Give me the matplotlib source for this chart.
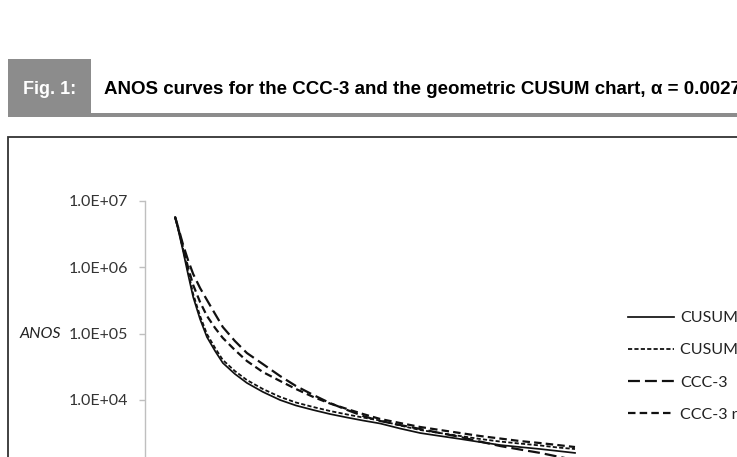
import matplotlib
matplotlib.use("Agg")
import matplotlib.pyplot as plt
from matplotlib.patches import Rectangle

plt.rcParams['lines.scale_dashes'] = False

# ---- data ----
shift = [0.070, 0.079, 0.088, 0.100, 0.112, 0.128, 0.144, 0.163, 0.181, 0.209,
         0.237, 0.274, 0.314, 0.351, 0.391, 0.430, 0.470, 0.507, 0.547, 0.593,
         0.640, 0.686, 0.733, 0.779, 0.826, 0.872, 0.919, 0.960, 1.000]
anos_cusum = [5.68e6, 3.26e6, 1.81e6, 7.88e5, 3.55e5, 1.65e5, 8.86e4, 5.45e4, 3.60e4, 2.46e4,
              1.80e4, 1.32e4, 9.97e3, 8.24e3, 7.05e3, 6.13e3, 5.43e3, 4.89e3, 4.41e3, 3.71e3,
              3.17e3, 2.86e3, 2.58e3, 2.32e3, 2.09e3, 1.95e3, 1.82e3, 1.70e3, 1.59e3]
anos_cusum2 = [5.68e6, 3.38e6, 1.94e6, 8.74e5, 3.93e5, 1.84e5, 9.83e4, 6.05e4, 3.99e4, 2.72e4,
               1.99e4, 1.46e4, 1.11e4, 9.14e3, 7.82e3, 6.81e3, 6.03e3, 5.43e3, 4.89e3, 4.12e3,
               3.52e3, 3.17e3, 2.86e3, 2.58e3, 2.36e3, 2.20e3, 2.06e3, 1.92e3, 1.82e3]
anos_ccc3 = [5.68e6, 3.62e6, 2.23e6, 1.28e6, 7.88e5, 4.85e5, 3.20e5, 1.97e5, 1.25e5, 7.71e4,
             5.08e4, 3.47e4, 2.29e4, 1.62e4, 1.19e4, 8.98e3, 7.05e3, 5.72e3, 4.81e3, 4.19e3,
             3.65e3, 3.17e3, 2.76e3, 2.36e3, 2.02e3, 1.79e3, 1.59e3, 1.40e3, 1.24e3]
anos_ccc3r = [5.68e6, 3.50e6, 2.01e6, 1.00e6, 5.38e5, 2.98e5, 1.84e5, 1.21e5, 8.56e4, 5.64e4,
              3.85e4, 2.63e4, 1.93e4, 1.46e4, 1.11e4, 8.83e3, 7.29e3, 6.13e3, 5.16e3, 4.49e3,
              3.91e3, 3.52e3, 3.17e3, 2.86e3, 2.62e3, 2.40e3, 2.24e3, 2.09e3, 1.95e3]
labels = ["CUSUM", "CUSUM random", "CCC-3", "CCC-3 random"]
yticks = [1e4, 1e5, 1e6, 1e7]
ytick_labels = ["1.0E+04", "1.0E+05", "1.0E+06", "1.0E+07"]
title = "ANOS curves for the CCC-3 and the geometric CUSUM chart, \u03b1 = 0.0027"
fig_label = "Fig. 1:"

W, H = 737, 457
fig = plt.figure(figsize=(W / 100, H / 100), dpi=100)

def fx(px):
    return px / W

def fy(py):
    return 1 - py / H

# chart frame (behind the axes)
fig.add_artist(Rectangle((fx(8), fy(600)), 1.2, fy(137) - fy(600),
                         transform=fig.transFigure, facecolor="white", edgecolor="#333333",
                         linewidth=1.3, zorder=-10))

# header gray box and bar
fig.add_artist(Rectangle((fx(8), fy(117)), fx(91) - fx(8), fy(59) - fy(117),
                         transform=fig.transFigure, facecolor="#8c8c8c", edgecolor="none"))
fig.add_artist(Rectangle((fx(91), fy(117)), 1 - fx(91), fy(113) - fy(117),
                         transform=fig.transFigure, facecolor="#8c8c8c", edgecolor="none"))
fig.text(fx(23), fy(94.5), fig_label, color="white", fontsize=13, fontweight="bold",
         family="Liberation Sans", ha="left", va="baseline")
fig.text(fx(104), fy(94.5), title, color="black", fontsize=13.5, fontweight="bold",
         family="Liberation Sans", ha="left", va="baseline")

# axes: 1e7 at py 200.7, 66.4 px per decade, ylim 1e2..1e7
top_px = 200.7
bot_px = top_px + 5 * 66.4
left_px, right_px = 145, 610
ax = fig.add_axes([fx(left_px), fy(bot_px), fx(right_px) - fx(left_px), fy(top_px) - fy(bot_px)])
ax.set_facecolor("none")
ax.set_yscale("log")
ax.set_ylim(1e2, 1e7)
ax.set_xlim(0, (right_px - left_px) / 430)

ax.plot(shift, anos_cusum, color="#111111", lw=1.25, ls="-", label=labels[0])
ax.plot(shift, anos_cusum2, color="#111111", lw=1.3, ls=(0, (3.0, 1.6)), label=labels[1])
ax.plot(shift, anos_ccc3, color="#111111", lw=1.6, ls=(0, (8.6, 3.6)), label=labels[2])
ax.plot(shift, anos_ccc3r, color="#111111", lw=1.6, ls=(0, (5.4, 3.0)), label=labels[3])

for s in ["top", "right", "bottom"]:
    ax.spines[s].set_visible(False)
ax.spines["left"].set_color("#bfbfbf")
ax.spines["left"].set_linewidth(1.0)
ax.set_xticks([])
ax.set_yticks(yticks)
ax.set_yticklabels(ytick_labels)
ax.yaxis.set_minor_locator(matplotlib.ticker.NullLocator())
ax.tick_params(axis="y", which="major", length=4, width=1.0, color="#bfbfbf", pad=8,
               labelsize=11.5, labelcolor="#333333")
for t in ax.get_yticklabels():
    t.set_family("Lato")

ax.set_ylabel("ANOS", rotation=0, fontsize=11.5, family="Lato", style="italic",
              color="#222222", ha="right", va="center")
ax.yaxis.set_label_coords((61 - left_px) / (right_px - left_px), 0.6)

leg = ax.legend(loc="upper left", bbox_to_anchor=(fx(628), fy(311)),
                bbox_transform=fig.transFigure, frameon=False, borderpad=0,
                borderaxespad=0, handlelength=2.9, handletextpad=0.35,
                labelspacing=1.13, prop={"family": "Lato", "size": 11.5})
for t in leg.get_texts():
    t.set_color("#222222")

fig.savefig("out.png", dpi=100, facecolor="white")
